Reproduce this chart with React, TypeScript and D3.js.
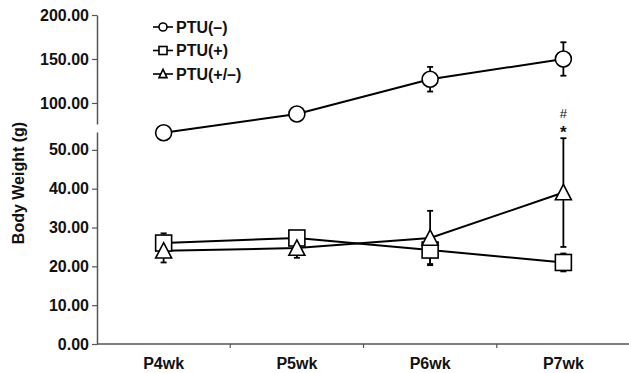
import React, { useEffect, useRef } from "react";
import * as d3 from "d3";

const categories = ["P4wk", "P5wk", "P6wk", "P7wk"];
const seriesNames = ["PTU(–)", "PTU(+)", "PTU(+/–)"];
const ptuMinus = [54.4, 87.5, 127, 150];
const ptuMinusErr = [1.5, 5, 14, 19];
const ptuPlus = [26, 27.3, 24.2, 21.0];
const ptuPlusErr = [2.5, 1.5, 3.6, 2.3];
const ptuMixed = [24, 24.7, 27.3, 39];
const ptuMixedErr = [3, 2.5, 7, 14];
const lowerTicks = [0, 10, 20, 30, 40, 50];
const upperTicks = [100, 150, 200];
const lowerDomain = [0, 54.6];
const upperDomain = [76.1, 200];

const W = 629;
const H = 373;
const FONT = "'Liberation Sans', Arial, sans-serif";

export default function App() {
  const gRef = useRef<SVGGElement>(null);

  const x0 = 97;
  const x1 = 630;
  const yBase = 344;
  const lowerY = d3.scaleLinear().domain(lowerDomain).range([344, 132]);
  const upperY = d3.scaleLinear().domain(upperDomain).range([124, 15]);
  const y = d3
    .scaleLinear()
    .domain([lowerDomain[0], lowerDomain[1], upperDomain[0], upperDomain[1]])
    .range([344, 132, 124, 15]);
  const x = d3.scaleBand().domain(categories).range([x0, x1]);
  const cx = (c: string) => (x(c) as number) + x.bandwidth() / 2;

  useEffect(() => {
    const g = d3.select(gRef.current);
    g.selectAll("*").remove();
    const fmt = d3.format(".2f");
    const mk = (scale: any, ticks: number[]) =>
      d3.axisLeft(scale).tickValues(ticks).tickFormat(fmt as any).tickSize(5).tickSizeOuter(0).tickPadding(3);
    [
      [lowerY, lowerTicks],
      [upperY, upperTicks],
    ].forEach(([s, t]: any) => {
      const a = g.append("g").attr("transform", `translate(${x0},0)`).call(mk(s, t));
      a.select(".domain").attr("stroke", "#555").attr("stroke-width", 1.5);
      a.selectAll(".tick line").attr("stroke", "#555").attr("stroke-width", 1.2);
      a.selectAll(".tick text")
        .attr("fill", "#111")
        .style("font-family", FONT)
        .style("font-size", "16px")
        .style("font-weight", "bold");
    });
  }, []);

  const series = [
    { vals: ptuMinus, err: ptuMinusErr, shape: "circle" },
    { vals: ptuPlus, err: ptuPlusErr, shape: "square" },
    { vals: ptuMixed, err: ptuMixedErr, shape: "triangle" },
  ];

  const line = d3
    .line<number>()
    .x((_, i) => cx(categories[i]))
    .y((v) => y(v));

  const marker = (shape: string, px: number, py: number, s: number, key: string) => {
    if (shape === "circle")
      return <circle key={key} cx={px} cy={py} r={s / 2} fill="#fff" stroke="#000" strokeWidth={1.6} />;
    if (shape === "square")
      return <rect key={key} x={px - s / 2} y={py - s / 2} width={s} height={s} fill="#fff" stroke="#000" strokeWidth={1.6} />;
    const h = s * 0.9;
    return (
      <path
        key={key}
        d={`M${px},${py - h / 2 - 1}L${px + s / 2},${py + h / 2}L${px - s / 2},${py + h / 2}Z`}
        fill="#fff"
        stroke="#000"
        strokeWidth={1.6}
      />
    );
  };

  return (
    <svg width={W} height={H} style={{ position: "absolute", left: 0, top: 0, background: "#fff" }}>
      <g ref={gRef} />
      {/* x axis */}
      <line x1={x0} x2={x1} y1={yBase} y2={yBase} stroke="#555" strokeWidth={1.5} />
      {categories.slice(1).map((c) => (
        <line key={c} x1={x(c)} x2={x(c)} y1={yBase} y2={yBase + 4} stroke="#555" strokeWidth={1.2} />
      ))}
      {categories.map((c) => (
        <text
          key={c}
          x={cx(c)}
          y={369}
          textAnchor="middle"
          fontFamily={FONT}
          fontSize={16}
          fontWeight="bold"
          fill="#111"
        >
          {c}
        </text>
      ))}
      <text
        transform={`translate(24,${183}) rotate(-90)`}
        textAnchor="middle"
        fontFamily={FONT}
        fontSize={16}
        fontWeight="bold"
        fill="#111"
      >
        Body Weight (g)
      </text>
      {/* lines */}
      {series.map((s, i) => (
        <path key={"l" + i} d={line(s.vals) as string} fill="none" stroke="#000" strokeWidth={2} />
      ))}
      {/* error bars */}
      {series.map((s, i) =>
        s.vals.map((v, j) => {
          const px = cx(categories[j]);
          const top = y(v + s.err[j]);
          const bot = y(v - s.err[j]);
          return (
            <g key={`e${i}-${j}`} stroke="#000" strokeWidth={1.8}>
              <line x1={px} x2={px} y1={top} y2={bot} />
              <line x1={px - 3} x2={px + 3} y1={top} y2={top} />
              <line x1={px - 3} x2={px + 3} y1={bot} y2={bot} />
            </g>
          );
        })
      )}
      {/* markers */}
      {series.map((s, i) => s.vals.map((v, j) => marker(s.shape, cx(categories[j]), y(v), 16, `m${i}-${j}`)))}
      {/* annotations */}
      <text x={cx("P7wk")} y={118} textAnchor="middle" fontFamily={FONT} fontSize={13} fill="#111">
        #
      </text>
      <text x={cx("P7wk")} y={138} textAnchor="middle" fontFamily={FONT} fontSize={17} fontWeight="bold" fill="#111">
        *
      </text>
      {/* legend */}
      {seriesNames.map((n, i) => {
        const ly = 27 + i * 23.5;
        return (
          <g key={n}>
            <line x1={153} x2={173} y1={ly} y2={ly} stroke="#000" strokeWidth={1.6} />
            {marker(series[i].shape, 163, ly, 8, "lg" + i)}
            <text x={176} y={ly} dy="0.35em" fontFamily={FONT} fontSize={16} fontWeight="bold" fill="#111">
              {n}
            </text>
          </g>
        );
      })}
    </svg>
  );
}
